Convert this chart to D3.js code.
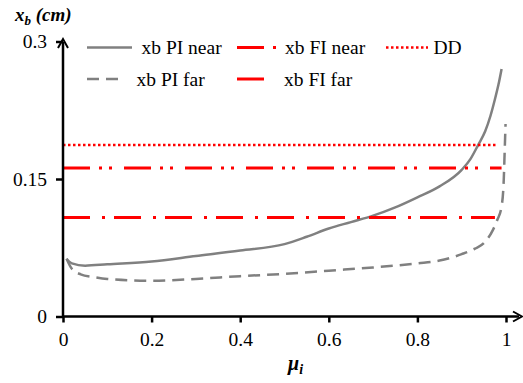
<!DOCTYPE html><html>
<head>
<meta charset="utf-8">
<style>
body { margin: 0; padding: 0; background: #ffffff; }
</style>
</head>
<body>
<svg id="chart" width="523" height="383"></svg>
<script src="https://cdn.jsdelivr.net/npm/d3@7"></script>
<script>
// data
var xTicks = [0, 0.2, 0.4, 0.6, 0.8, 1];
var xTickLabels = ["0", "0.2", "0.4", "0.6", "0.8", "1"];
var yTicks = [0, 0.15, 0.3];
var yTickLabels = ["0", "0.15", "0.3"];

var piNear = [[0.008,0.063],[0.02,0.058],[0.05,0.0555],[0.1,0.057],[0.2,0.060],[0.3,0.066],
  [0.4,0.072],[0.5,0.079],[0.55,0.087],[0.6,0.096],[0.65,0.103],[0.7,0.110],[0.75,0.119],
  [0.8,0.130],[0.85,0.142],[0.9,0.160],[0.92,0.172],[0.937,0.187],[0.953,0.202],
  [0.965,0.219],[0.975,0.237],[0.983,0.253],[0.99,0.270]];
var piFar = [[0.008,0.063],[0.02,0.052],[0.04,0.046],[0.07,0.043],[0.1,0.041],[0.2,0.039],
  [0.3,0.041],[0.4,0.044],[0.5,0.0465],[0.6,0.050],[0.7,0.0535],[0.8,0.058],[0.85,0.061],
  [0.9,0.068],[0.93,0.074],[0.95,0.080],[0.97,0.094],[0.98,0.105],[0.99,0.120],
  [0.995,0.150],[0.997,0.180],[0.999,0.210]];
var fiNear = [[0, 0.162], [0.99, 0.162]];
var fiFar = [[0, 0.108], [0.975, 0.108]];
var dd = [[0, 0.187], [0.98, 0.187]];

var series = [
  {name: "xb PI near", data: piNear, color: "#808080", width: 2.5, dash: null},
  {name: "xb PI far", data: piFar, color: "#808080", width: 2.5, dash: "12,7"},
  {name: "xb FI near", data: fiNear, color: "#ff0000", width: 3, dash: "27,9,3,7,3,12"},
  {name: "xb FI far", data: fiFar, color: "#ff0000", width: 3, dash: "27,12,3,9"},
  {name: "DD", data: dd, color: "#ff0000", width: 2.5, dash: "2.5,2.5"}
];

var serif = "Liberation Serif";

var svg = d3.select("#chart");
var x = d3.scaleLinear().domain([0, 1]).range([63, 506]);
var y = d3.scaleLinear().domain([0, 0.3]).range([316.5, 41.5]);

var line = d3.line().x(d => x(d[0])).y(d => y(d[1])).curve(d3.curveMonotoneX);

svg.selectAll("path.series").data(series).enter().append("path")
  .attr("class", "series")
  .attr("d", d => line(d.data))
  .attr("fill", "none")
  .attr("stroke", d => d.color)
  .attr("stroke-width", d => d.width)
  .attr("stroke-dasharray", d => d.dash);

// axes
var xAxis = d3.axisBottom(x).tickValues(xTicks).tickFormat((d, i) => xTickLabels[i])
  .tickSize(6).tickPadding(10);
var gx = svg.append("g").attr("transform", "translate(0," + y(0) + ")").call(xAxis);
var yAxis = d3.axisLeft(y).tickValues(yTicks).tickFormat((d, i) => yTickLabels[i])
  .tickSize(7).tickPadding(9);
var gy = svg.append("g").attr("transform", "translate(" + x(0) + ",0)").call(yAxis);
[gx, gy].forEach(g => {
  g.attr("font-family", null).attr("font-size", null);
  g.select(".domain").remove();
  g.selectAll(".tick line").attr("stroke", "#000").attr("stroke-width", 2.5);
  g.selectAll(".tick text").attr("fill", "#000")
    .attr("font-family", serif).attr("font-size", 19.5);
});

svg.append("line").attr("x1", x(0)).attr("y1", y(0)).attr("x2", 519).attr("y2", y(0))
  .attr("stroke", "#000").attr("stroke-width", 2.5);
svg.append("line").attr("x1", x(0)).attr("y1", y(0)).attr("x2", x(0)).attr("y2", 42)
  .attr("stroke", "#000").attr("stroke-width", 2.5);
// arrowheads
svg.append("path").attr("d", "M" + (x(0) - 5) + ",48 L" + x(0) + ",39 L" + (x(0) + 5) + ",48")
  .attr("fill", "none").attr("stroke", "#000").attr("stroke-width", 2);
svg.append("path").attr("d", "M513," + (y(0) - 5) + " L522," + y(0) + " L513," + (y(0) + 5))
  .attr("fill", "none").attr("stroke", "#000").attr("stroke-width", 2);

// axis titles
var yt = svg.append("text").attr("x", 15).attr("y", 20.5).attr("font-family", serif)
  .attr("font-size", 19).attr("font-weight", "bold").attr("font-style", "italic");
yt.append("tspan").text("x");
yt.append("tspan").attr("font-size", 13).attr("dy", 4).text("b");
yt.append("tspan").attr("dy", -4).text(" (cm)");

var xt = svg.append("text").attr("x", 288).attr("y", 370).attr("font-family", serif)
  .attr("font-size", 20).attr("font-weight", "bold").attr("font-style", "italic");
xt.append("tspan").text("\u03bc");
xt.append("tspan").attr("font-size", 14).attr("dy", 4).text("i");

// legend
var legend = [
  {s: series[0], x1: 87, x2: 132, tx: 141.5, ty: 47.5},
  {s: series[1], x1: 87, x2: 124, tx: 136.5, ty: 79},
  {s: series[2], x1: 237, x2: 276, tx: 285, ty: 47.5},
  {s: series[3], x1: 237, x2: 276, tx: 284, ty: 79},
  {s: series[4], x1: 386, x2: 428, tx: 433.5, ty: 47.5}
];
var lg = svg.selectAll("g.leg").data(legend).enter().append("g").attr("class", "leg");
lg.append("line")
  .attr("x1", d => d.x1).attr("x2", d => d.x2).attr("y1", d => d.ty).attr("y2", d => d.ty)
  .attr("stroke", d => d.s.color).attr("stroke-width", d => d.s.width)
  .attr("stroke-dasharray", d => d.s.dash);
lg.append("text").attr("x", d => d.tx).attr("y", d => d.ty + 6.5)
  .attr("font-family", serif).attr("font-size", 19.5).text(d => d.s.name);
</script>
</body>
</html>
